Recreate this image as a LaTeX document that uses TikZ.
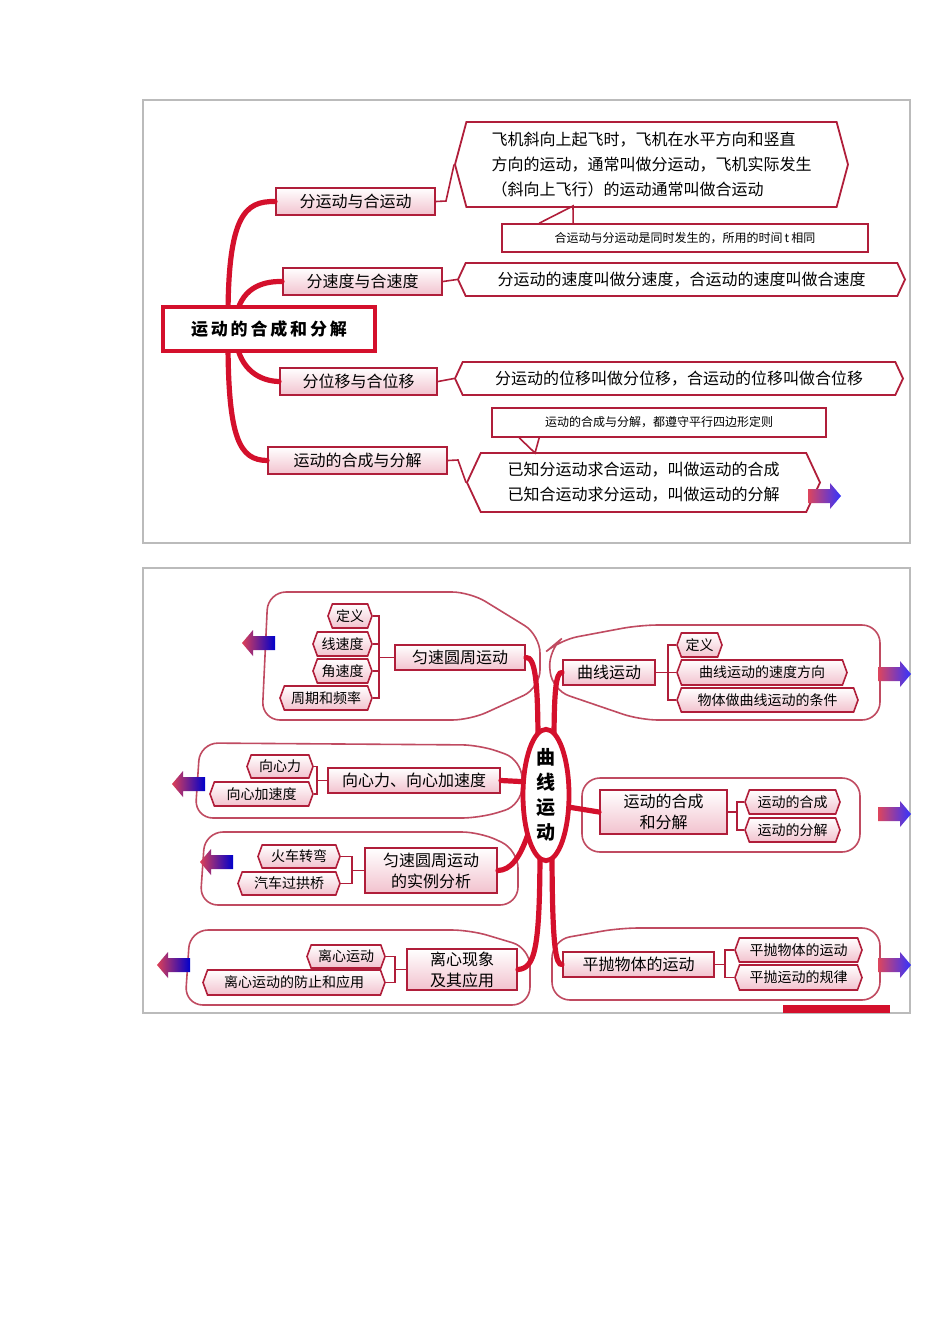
\documentclass[tikz,border=0pt]{standalone}
\usepackage{fontspec}
\setmainfont{Noto Sans CJK SC}
\usetikzlibrary{shapes.symbols,shapes.misc,shapes.geometric,calc}
\definecolor{dred}{HTML}{B01E3A}
\definecolor{tred}{HTML}{D4102C}
\definecolor{pk}{HTML}{F2C2CE}
\definecolor{gbord}{HTML}{BBBBBB}
\tikzset{
 brbox/.style={draw=dred,line width=1pt,top color=white,bottom color=pk,font=\fontsize{8}{8}\selectfont},
 hexbox/.style={draw=dred,line width=0.9pt,fill=white,signal,signal to=west and east,signal pointer angle=130,font=\fontsize{8}{10}\selectfont},
 leaf/.style={draw=dred,line width=0.8pt,top color=white,bottom color=pk,signal,signal to=west and east,signal pointer angle=140,font=\fontsize{7}{8}\selectfont},
 note/.style={draw=dred,line width=0.8pt,fill=white,font=\fontsize{6}{7}\selectfont},
 trunk/.style={draw=tred,line width=2.6pt,line cap=round},
 thin/.style={draw=dred,line width=0.8pt},
 bubble/.style={draw=dred!80,line width=0.8pt,rounded corners=9pt},
}
\newcommand\bx[7]{\node[align=center,#6,minimum width={(#4-#2)*0.5},minimum height={(#5-#3)*0.5},inner sep=0pt] (#1) at ({(#2+#4)/2},{(#3+#5)/2}) {#7};}
\newcommand\rarr[2]{\shade[left color=tred!70!pk,right color=blue!80] (#1,#2-7)--(#1+22,#2-7)--(#1+22,#2-13)--(#1+33,#2)--(#1+22,#2+13)--(#1+22,#2+7)--(#1,#2+7)--cycle;}
\newcommand\larr[2]{\shade[left color=tred!80,right color=blue!80!black] (#1,#2-7)--(#1-22,#2-7)--(#1-22,#2-13)--(#1-33,#2)--(#1-22,#2+13)--(#1-22,#2+7)--(#1,#2+7)--cycle;}
\begin{document}
\begin{tikzpicture}[x=0.5pt,y=-0.5pt]
\useasboundingbox (0,0) rectangle (950,1344);
\fill[white] (0,0) rectangle (950,1344);
% frames
\draw[gbord,line width=0.6pt] (143,100) rectangle (910,543);
\draw[gbord,line width=0.6pt] (143,568) rectangle (910,1013);
\fill[tred] (783,1005) rectangle (890,1013);

% ===== top panel =====
\bx{b1}{276}{188}{435}{215}{brbox}{分运动与合运动}
\bx{b2}{283}{268}{442}{295}{brbox}{分速度与合速度}
\bx{b3}{280}{368}{437}{395}{brbox}{分位移与合位移}
\bx{b4}{268}{447}{447}{474}{brbox}{运动的合成与分解}
\draw[trunk] (228,318) .. controls (228,215) and (245,201) .. (b1.west);
\draw[trunk] (236,318) .. controls (240,290) and (260,281) .. (b2.west);
\draw[trunk] (236,340) .. controls (240,370) and (260,381) .. (b3.west);
\draw[trunk] (228,340) .. controls (228,440) and (240,460) .. (b4.west);
\node[draw=tred,line width=2.2pt,fill=white,minimum width=106pt,minimum height=22pt,inner sep=0pt,font=\fontsize{8.5}{9}\selectfont\bfseries] (c1) at (269,329) {运\,动\,的\,合\,成\,和\,分\,解};

\bx{h1}{455}{122}{848}{207}{hexbox,signal pointer angle=150,align=left,font=\fontsize{8}{12.5}\selectfont}{飞机斜向上起飞时，飞机在水平方向和竖直\\方向的运动，通常叫做分运动，飞机实际发生\\（斜向上飞行）的运动通常叫做合运动}
\bx{n1}{502}{224}{868}{252}{note}{合运动与分运动是同时发生的，所用的时间\,\textit{t}\,相同}
\draw[thin] ($(n1.north west)+(38,0)$) -- (573,206) -- ($(n1.north west)+(72,0)$);
\bx{h2}{458}{263}{905}{296}{hexbox}{分运动的速度叫做分速度，合运动的速度叫做合速度}
\bx{h3}{455}{362}{903}{395}{hexbox}{分运动的位移叫做分位移，合运动的位移叫做合位移}
\bx{n2}{492}{408}{826}{437}{note}{运动的合成与分解，都遵守平行四边形定则}
\bx{h4}{467}{453}{820}{512}{hexbox,align=left,font=\fontsize{8}{12.5}\selectfont}{已知分运动求合运动，叫做运动的合成\\已知合运动求分运动，叫做运动的分解}
\draw[thin] ($(n2.south west)+(28,0)$) -- (535,453) -- ($(n2.south west)+(48,0)$);
\draw[thin] (b1.east) -- (446,201) -- (h1.west);
\draw[thin] (b2.east) -- (h2.west);
\draw[thin] (b3.east) -- (h3.west);
\draw[thin] (b4.east) -- (458,460) -- (h4.west);
\rarr{808}{496}

% ===== bottom panel =====
% left groups
\draw[bubble] (268,592) -- (470,592) -- (540,635) -- (540,688) -- (470,720) -- (262,720) -- cycle;
\bx{m1}{395}{645}{525}{670}{brbox}{匀速圆周运动}
\bx{l11}{328}{604}{372}{628}{leaf}{定义}
\bx{l12}{313}{632}{372}{656}{leaf}{线速度}
\bx{l13}{313}{659}{372}{683}{leaf}{角速度}
\bx{l14}{280}{686}{372}{710}{leaf}{周期和频率}
\foreach \q in {l11,l12,l13,l14} \draw[thin] (m1.west) -- ++(-15,0) |- (\q.east);
\larr{275}{643}

\draw[bubble] (200,743) -- (480,745) -- (522,760) -- (522,805) -- (480,818) -- (195,818) -- cycle;
\bx{m2}{328}{768}{500}{793}{brbox}{向心力、向心加速度}
\bx{l21}{247}{755}{313}{778}{leaf}{向心力}
\bx{l22}{210}{782}{313}{806}{leaf}{向心加速度}
\foreach \q in {l21,l22} \draw[thin] (m2.west) -- ++(-10,0) |- (\q.east);
\larr{205}{784}

\draw[bubble] (205,832) -- (480,832) -- (518,850) -- (518,905) -- (200,905) -- cycle;
\bx{m3}{365}{848}{497}{893}{brbox,font=\fontsize{8}{10.5}\selectfont}{匀速圆周运动\\的实例分析}
\bx{l31}{258}{845}{340}{868}{leaf}{火车转弯}
\bx{l32}{238}{872}{340}{895}{leaf}{汽车过拱桥}
\foreach \q in {l31,l32} \draw[thin] (m3.west) -- ++(-12,0) |- (\q.east);
\larr{233}{862}

\draw[bubble] (190,930) -- (470,930) -- (530,948) -- (530,1005) -- (185,1005) -- cycle;
\bx{m4}{407}{949}{517}{990}{brbox,font=\fontsize{8}{10.5}\selectfont}{离心现象\\及其应用}
\bx{l41}{307}{945}{385}{968}{leaf}{离心运动}
\bx{l42}{203}{970}{385}{995}{leaf}{离心运动的防止和应用}
\foreach \q in {l41,l42} \draw[thin] (m4.west) -- ++(-11,0) |- (\q.east);
\larr{190}{965}

% right groups
\draw[bubble] (560,640) -- (640,625) -- (880,625) -- (880,720) -- (640,720) -- (552,690) -- (548,650) -- cycle;
\bx{r1}{563}{660}{655}{685}{brbox}{曲线运动}
\bx{s11}{677}{633}{722}{657}{leaf}{定义}
\bx{s12}{677}{660}{847}{685}{leaf}{曲线运动的速度方向}
\bx{s13}{677}{688}{858}{712}{leaf}{物体做曲线运动的条件}
\foreach \q in {s11,s12,s13} \draw[thin] (r1.east) -- ++(12,0) |- (\q.west);
\rarr{878}{674}

\draw[bubble] (582,778) rectangle (860,852);
\bx{r2}{600}{790}{727}{834}{brbox,font=\fontsize{8}{10.5}\selectfont}{运动的合成\\和分解}
\bx{s21}{745}{790}{840}{814}{leaf}{运动的合成}
\bx{s22}{745}{818}{840}{842}{leaf}{运动的分解}
\foreach \q in {s21,s22} \draw[thin] (r2.east) -- ++(9,0) |- (\q.west);
\rarr{878}{814}

\draw[bubble] (552,940) -- (620,928) -- (880,928) -- (880,1000) -- (552,1000) -- cycle;
\bx{r3}{563}{952}{714}{977}{brbox}{平抛物体的运动}
\bx{s31}{735}{938}{862}{962}{leaf}{平抛物体的运动}
\bx{s32}{735}{965}{862}{990}{leaf}{平抛运动的规律}
\foreach \q in {s31,s32} \draw[thin] (r3.east) -- ++(10,0) |- (\q.west);
\rarr{878}{965}

% trunk of bottom
\draw[trunk] (538,745) .. controls (538,680) and (535,657) .. (m1.east);
\draw[trunk] (554,745) .. controls (554,690) and (556,672) .. (r1.west);
\draw[trunk] (530,782) -- (m2.east);
\draw[trunk] (530,828) .. controls (520,860) and (510,870) .. (m3.east);
\draw[trunk] (540,845) .. controls (540,950) and (535,968) .. (m4.east);
\draw[trunk] (552,845) .. controls (552,950) and (556,965) .. (r3.west);
\draw[trunk] (562,806) -- (r2.west);
\node[draw=tred,line width=2.4pt,fill=white,ellipse,minimum width=23pt,minimum height=62pt,inner sep=0pt,align=center,font=\fontsize{9.5}{12.5}\selectfont\bfseries] (c2) at (546,795) {曲\\线\\运\\动};
\end{tikzpicture}
\end{document}
